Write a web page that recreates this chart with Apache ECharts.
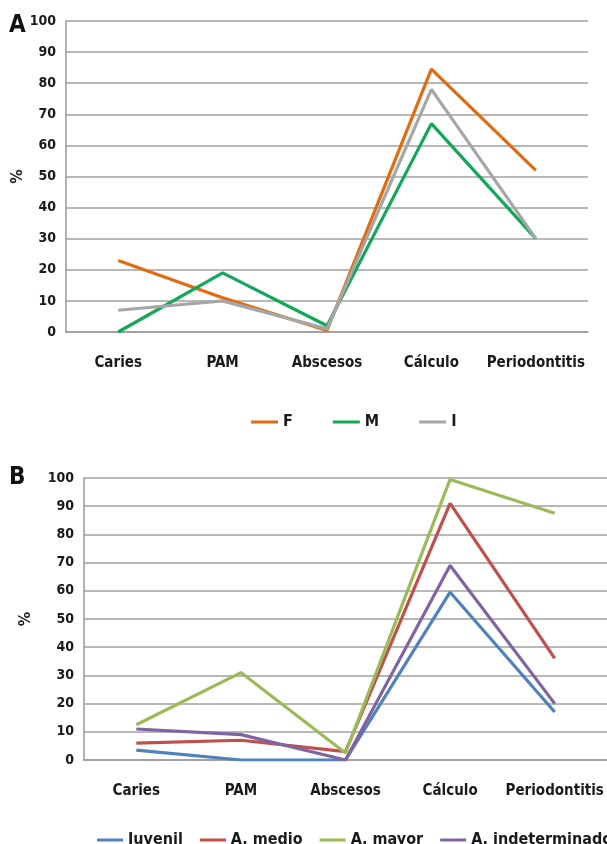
<!DOCTYPE html>
<html><head><meta charset="utf-8">
<script src="https://cdn.jsdelivr.net/npm/echarts@6/dist/echarts.min.js"></script>
<style>html,body{margin:0;padding:0;background:#fff;overflow:hidden}#c{width:607px;height:844px}</style>
</head><body><div id="c"></div>
<script>
const categories = ['Caries', 'PAM', 'Abscesos', 'Cálculo', 'Periodontitis'];
const yTicksMax = 100, yTickStep = 10;
// Panel A
const seriesA_F = [23, 11, 0.5, 84.5, 52];
const seriesA_M = [0, 19, 2, 67, 30];
const seriesA_I = [7, 10, 1, 78, 30];
// Panel B
const seriesB_Juvenil = [3.5, 0, 0, 59.5, 17];
const seriesB_Medio = [6, 7, 3, 91, 36];
const seriesB_Mayor = [12.5, 31, 2.5, 99.5, 87.5];
const seriesB_Indet = [11, 9, 0, 69, 20];

const FONT = '"DejaVu Sans Condensed", "Liberation Sans Narrow", sans-serif';
const txt = {fontFamily: FONT, fontWeight: 'bold', fontSize: 15, color: '#1a1a1a'};

function xAxis(gi) {
  return {type: 'category', gridIndex: gi, data: categories, boundaryGap: true,
    axisLine: {lineStyle: {color: '#9a9a9a', width: 1.5}}, axisTick: {show: false},
    axisLabel: Object.assign({}, txt, {margin: 24, fontSize: 15, interval: 0})};
}
function yAxis(gi, gap) {
  return {type: 'value', gridIndex: gi, min: 0, max: yTicksMax, interval: yTickStep,
    name: '%', nameLocation: 'middle', nameGap: gap, nameRotate: 90, nameMoveOverlap: false,
    nameTextStyle: Object.assign({}, txt, {fontSize: 16}),
    axisLine: {show: true, lineStyle: {color: '#9a9a9a', width: 1.5}}, axisTick: {show: false},
    axisLabel: Object.assign({}, txt, {margin: 10, fontSize: 14}),
    splitLine: {lineStyle: {color: '#a0a0a0', width: 1.5}}};
}
function line(name, data, color, gi) {
  return {type: 'line', name, data, xAxisIndex: gi, yAxisIndex: gi, symbol: 'none',
    lineStyle: {color, width: 3.2}, itemStyle: {color}};
}
const chart = echarts.init(document.getElementById('c'));
chart.setOption({
  animation: false,
  grid: [
    {left: 66, right: 19, top: 21, height: 311, outerBoundsMode: 'none', containLabel: false},
    {left: 84, right: 0, top: 478, height: 282, outerBoundsMode: 'none', containLabel: false}
  ],
  xAxis: [xAxis(0), xAxis(1)],
  yAxis: [yAxis(0, 40), yAxis(1, 50)],
  legend: [
    {data: ['F', 'M', 'I'], left: 246, top: 409, itemWidth: 27, itemHeight: 3, itemGap: 40,
     icon: 'rect', textStyle: Object.assign({}, txt, {fontSize: 16})},
    {data: ['Juvenil', 'A. medio', 'A. mayor', 'A. indeterminado'], left: 92, top: 827, width: 900,
     itemWidth: 26, itemHeight: 3, itemGap: 17, icon: 'rect', textStyle: Object.assign({}, txt, {fontSize: 16})}
  ],
  graphic: [
    {type: 'text', left: 9, top: 14, style: {text: 'A', font: 'bold 24px ' + FONT, fill: '#111'}},
    {type: 'text', left: 9, top: 466, style: {text: 'B', font: 'bold 24px ' + FONT, fill: '#111'}}
  ],
  series: [
    line('F', seriesA_F, '#E26B10', 0),
    line('M', seriesA_M, '#12A85A', 0),
    line('I', seriesA_I, '#A6A6A6', 0),
    line('Juvenil', seriesB_Juvenil, '#4F81BD', 1),
    line('A. medio', seriesB_Medio, '#C0504D', 1),
    line('A. mayor', seriesB_Mayor, '#9BBB59', 1),
    line('A. indeterminado', seriesB_Indet, '#8064A2', 1)
  ]
});
</script></body></html>
